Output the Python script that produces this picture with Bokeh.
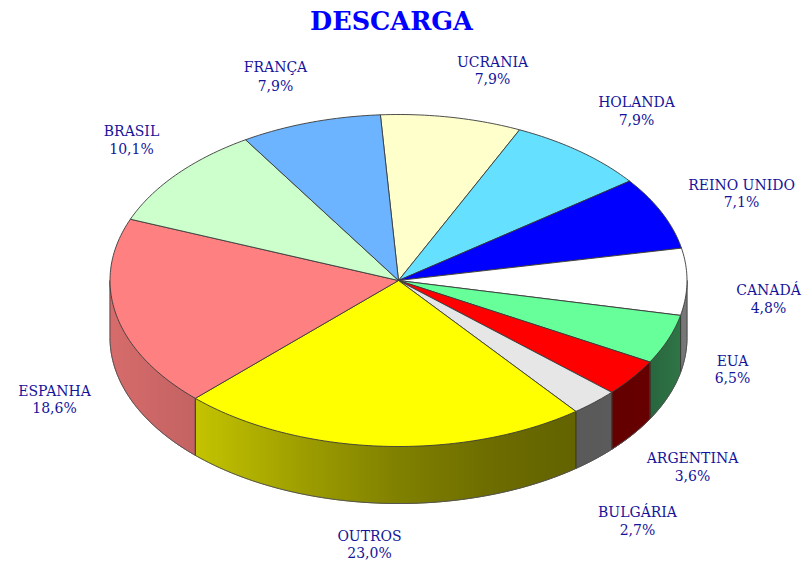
import math
from bokeh.plotting import figure
from bokeh.models import ColumnDataSource
from bokeh.core.properties import value
from bokeh.embed import file_html
from bokeh.resources import INLINE

# data (slices in clockwise order, starting at the top)
categories = ["UCRANIA", "HOLANDA", "REINO UNIDO", "EUA", "CANADÁ", "ARGENTINA",
              "BULGÁRIA", "OUTROS", "ESPANHA", "BRASIL", "FRANÇA"]
percent = [7.9, 7.9, 7.1, 6.5, 4.8, 3.6, 2.7, 23.0, 18.6, 10.1, 7.9]
colors = ["#FFFFCC", "#66E0FF", "#0000FF", "#FFFFFF", "#66FF99", "#FF0000",
          "#E6E6E6", "#FFFF00", "#FF8080", "#CCFFCC", "#6CB4FF"]
pct_labels = [f"{v:.1f}%".replace(".", ",") for v in percent]

# layout (page pixels)
W, H = 805, 563
CX, CY, RX, RY, DEPTH = 398.0, 280.0, 288.5, 166.0, 57.0
START = 93.6
label_pos = {
    "UCRANIA": (492, 61, 78), "HOLANDA": (636, 101, 119), "REINO UNIDO": (741, 184, 201),
    "EUA": (732, 360, 377), "CANADÁ": (768, 289, 307), "ARGENTINA": (692, 457, 475),
    "BULGÁRIA": (637, 511, 529), "OUTROS": (369, 535, 552), "ESPANHA": (54, 390, 407),
    "BRASIL": (131, 130, 148), "FRANÇA": (275, 66, 85),
}
shade_stops = [(110, .84), (193, .77), (300, .62), (400, .50), (500, .42),
               (575, .39), (650, .40), (687, .47)]
EDGE = "#3a3a3a"
TXT = "#14149A"

p = figure(width=W, height=H, x_range=(0, W), y_range=(H, 0),
           output_backend="svg", toolbar_location=None, min_border=0)
p.axis.visible = False
p.grid.visible = False
p.outline_line_color = None


def px(a):
    return CX + RX * math.cos(math.radians(a))


def py(a, d=0.0):
    return CY - RY * math.sin(math.radians(a)) + d


def shade(x):
    if x <= shade_stops[0][0]:
        return shade_stops[0][1]
    for (x0, s0), (x1, s1) in zip(shade_stops, shade_stops[1:]):
        if x <= x1:
            return s0 + (s1 - s0) * (x - x0) / (x1 - x0)
    return shade_stops[-1][1]


def dim(hexc, s):
    r, g, b = (int(hexc[i:i + 2], 16) for i in (1, 3, 5))
    return "#%02x%02x%02x" % (round(r * s), round(g * s), round(b * s))


def arc(a0, a1, step=1.0):
    n = max(2, int(abs(a1 - a0) / step) + 1)
    return [a0 + (a1 - a0) * i / n for i in range(n + 1)]


def angle_of(x):
    return -math.degrees(math.acos(max(-1, min(1, (x - CX) / RX))))


k = 360.0 / sum(percent)
bounds = [START]
for v in percent:
    bounds.append(bounds[-1] - v * k)

# sides: only the part of the rim that faces the viewer, in columns of whole pixels
sx, sy, sc = [], [], []
edges_x, edges_y = [], []
for c, a0, a1 in zip(colors, bounds, bounds[1:]):
    for off in (0, -360):
        hi, lo = min(a0 + off, 0), max(a1 + off, -180)
        if hi <= lo:
            continue
        x_left, x_right = px(lo), px(hi)
        cuts = [x_left] + list(range(math.floor(x_left) + 1, math.ceil(x_right))) + [x_right]
        for x0, x1 in zip(cuts, cuts[1:]):
            aa = arc(angle_of(x0), angle_of(x1), 0.5)
            xs = [px(a) for a in aa]
            sx.append(xs + xs[::-1])
            sy.append([py(a) for a in aa] + [py(a, DEPTH) for a in aa[::-1]])
            sc.append(dim(c, shade((x0 + x1) / 2)))
        for b in (hi, lo):
            edges_x.append([px(b), px(b)])
            edges_y.append([py(b), py(b, DEPTH)])
p.patches(sx, sy, fill_color=sc, line_color=sc, line_width=1)
p.multi_line(edges_x, edges_y, line_color=EDGE, line_width=0.7)
rim = arc(0, -180)
p.line([px(a) for a in rim], [py(a, DEPTH) for a in rim], line_color="#555555", line_width=1)

# top faces
tx, ty = [], []
for a0, a1 in zip(bounds, bounds[1:]):
    aa = arc(a0, a1)
    tx.append([CX] + [px(a) for a in aa])
    ty.append([CY] + [py(a) for a in aa])
p.patches(tx, ty, fill_color=colors, line_color=EDGE, line_width=0.9)

# labels
names = ColumnDataSource(dict(x=[label_pos[c][0] for c in categories],
                              y=[label_pos[c][1] for c in categories], t=categories))
vals = ColumnDataSource(dict(x=[label_pos[c][0] for c in categories],
                             y=[label_pos[c][2] for c in categories], t=pct_labels))
for src in (names, vals):
    p.text("x", "y", text="t", source=src, text_align="center", text_baseline="middle",
           text_font=value("DejaVu Serif"), text_font_size="14px", text_color=TXT)

p.text([391], [20], text=["DESCARGA"], text_align="center", text_baseline="middle",
       text_font=value("DejaVu Serif"), text_font_style="bold", text_font_size="25.5px",
       text_color="#0000FF")

open("out.html", "w").write(file_html(p, INLINE))
